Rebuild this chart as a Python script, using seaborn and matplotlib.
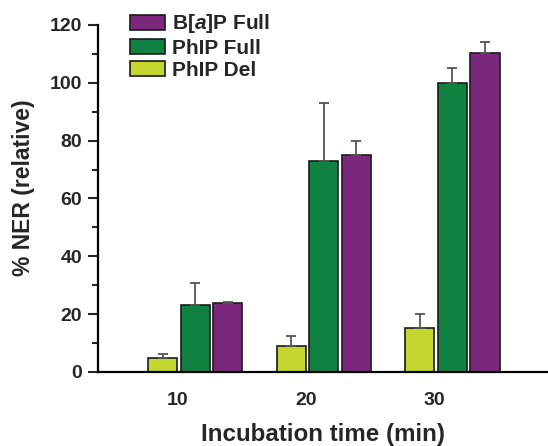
import matplotlib
matplotlib.use("Agg")
import matplotlib.pyplot as plt
import seaborn as sns
import pandas as pd
import numpy as np
from matplotlib.ticker import MultipleLocator

times = ["10", "20", "30"]
series = ["PhIP Del", "PhIP Full", "B[a]P Full"]
labels = {"PhIP Del": "PhIP Del", "PhIP Full": "PhIP Full", "B[a]P Full": r"B[$\it{a}$]P Full"}
phip_del = [5.0, 9.0, 15.3]
phip_del_err = [1.3, 3.5, 4.8]
phip_full = [23.0, 73.0, 100.0]
phip_full_err = [7.8, 20.0, 5.0]
bap_full = [23.7, 75.0, 110.3]
bap_full_err = [0.5, 4.8, 3.7]
colors = ["#c3d72f", "#0f8140", "#7b287d"]

sns.set_style("white")
plt.rcParams["font.family"] = ["Liberation Sans", "DejaVu Sans"]
plt.rcParams["font.weight"] = "bold"
plt.rcParams["mathtext.fontset"] = "custom"
plt.rcParams["mathtext.it"] = "Liberation Sans:italic:bold"
plt.rcParams["mathtext.rm"] = "Liberation Sans:bold"

rows = []
vals = {"PhIP Del": phip_del, "PhIP Full": phip_full, "B[a]P Full": bap_full}
errs = {"PhIP Del": phip_del_err, "PhIP Full": phip_full_err, "B[a]P Full": bap_full_err}
for s in series:
    for t, v, e in zip(times, vals[s], errs[s]):
        rows.append({"time": t, "series": s, "value": v, "err": e})
df = pd.DataFrame(rows)

fig = plt.figure(figsize=(5.48, 4.46), dpi=100)
ax = fig.add_axes([0.179, 0.166, 0.821, 0.778])
sns.barplot(data=df, x="time", y="value", hue="series", order=times,
            hue_order=series, palette=colors, width=0.76, gap=0.11,
            edgecolor="#1a1a1a", linewidth=1.2, errorbar=None, ax=ax,
            saturation=1)

# error bars (upper only), positioned from drawn bars
for cont, s in zip(ax.containers, series):
    sub = df[df.series == s].set_index("time").loc[times]
    xs = [p.get_x() + p.get_width() / 2 for p in cont.patches]
    ax.errorbar(xs, sub["value"].values,
                yerr=[np.zeros(len(xs)), sub["err"].values],
                fmt="none", ecolor="#555555", elinewidth=1.3, capsize=3.5,
                capthick=1.3, zorder=1)

ax.set_ylim(0, 120)
ax.set_xlim(-0.754, 2.743)
ax.yaxis.set_major_locator(MultipleLocator(20))
ax.yaxis.set_minor_locator(MultipleLocator(10))
ax.set_xticks([i - 0.14 for i in range(len(times))])
ax.set_xticklabels(times)
ax.tick_params(axis="y", which="major", direction="out", length=7.5, width=1.5,
               labelsize=14, pad=4, left=True)
ax.tick_params(axis="y", which="minor", direction="out", length=4, width=1.5, left=True)
ax.tick_params(axis="x", which="major", bottom=False, labelsize=14, pad=11)
for lab in ax.get_xticklabels() + ax.get_yticklabels():
    lab.set_fontweight("bold")

for side in ["top", "right"]:
    ax.spines[side].set_visible(False)
for side in ["left", "bottom"]:
    ax.spines[side].set_linewidth(1.6)
    ax.spines[side].set_color("black")

ax.set_xlabel("Incubation time (min)", fontsize=17.4, fontweight="bold", labelpad=10)
ax.set_ylabel("% NER (relative)", fontsize=16.5, fontweight="bold")
ax.yaxis.set_label_coords(-0.14, 0.532)

handles, _ = ax.get_legend_handles_labels()
leg = ax.legend(handles[::-1], [labels[s] for s in series[::-1]],
                loc="upper left", bbox_to_anchor=(0.237, 0.972),
                bbox_transform=fig.transFigure, frameon=False,
                fontsize=15, handlelength=1.68, handleheight=0.72,
                labelspacing=0.15, handletextpad=0.35, borderpad=0, borderaxespad=0)
for t in leg.get_texts():
    t.set_fontweight("bold")

fig.savefig("out.png", dpi=100)
